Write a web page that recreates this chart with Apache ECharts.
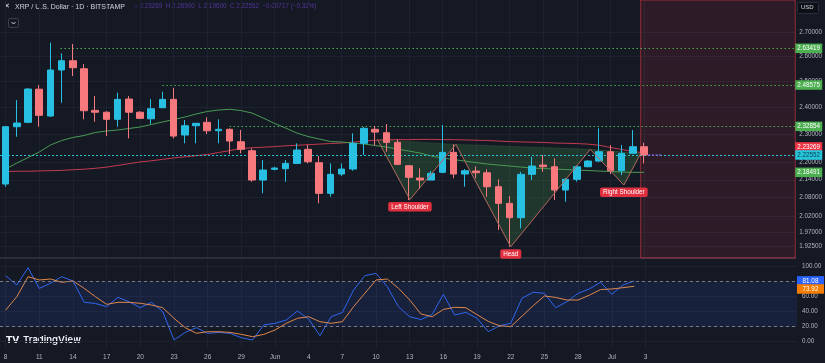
<!DOCTYPE html>
<html><head><meta charset="utf-8">
<script src="https://cdn.jsdelivr.net/npm/echarts@6/dist/echarts.min.js"></script>
<style>html,body{margin:0;padding:0;background:#151924;}#c{width:825px;height:363px;}</style>
</head><body><div id="c"></div>
<script>
// ---------- data ----------
const tickLabels = ['8','11','14','17','20','23','26','29','Jun','4','7','10','13','16','19','22','25','28','Jul','3'];
const opens  = [2.1256,2.3272,2.3434,2.4694,2.3668,2.5454,2.5830,2.5506,2.3880,2.3810,2.3545,2.4312,2.3810,2.3567,2.3980,2.4300,2.2968,2.3308,2.3434,2.3124,2.3176,2.2726,2.2404,2.1390,2.1754,2.1776,2.1960,2.2454,2.1983,2.0945,2.1594,2.1765,2.2668,2.3176,2.3051,2.2702,2.1879,2.1458,2.1390,2.1652,2.2348,2.1594,2.1696,2.1638,2.1165,2.0617,2.0153,2.1584,2.1903,2.1844,2.1055,2.1414,2.1844,2.2042,2.2370,2.1707,2.2312,2.2547];
const closes = [2.3272,2.3408,2.4700,2.3694,2.5454,2.5830,2.5546,2.3867,2.3810,2.3545,2.4300,2.3810,2.3582,2.3943,2.4300,2.2930,2.3308,2.3397,2.3124,2.3176,2.2751,2.2454,2.1390,2.1731,2.1800,2.1960,2.2429,2.2018,2.0945,2.1584,2.1765,2.2668,2.3212,2.3075,2.2702,2.1927,2.1482,2.1390,2.1618,2.2348,2.1594,2.1707,2.1638,2.1165,2.0617,2.0153,2.1584,2.1869,2.1844,2.1055,2.1414,2.1844,2.2042,2.2370,2.1707,2.2312,2.2547,2.2255];
const highs  = [2.3300,2.4274,2.4739,2.4857,2.6578,2.6134,2.6522,2.5697,2.4428,2.3850,2.4556,2.4428,2.3850,2.4312,2.4596,2.4746,2.3519,2.3408,2.3620,2.3545,2.3210,2.3150,2.2489,2.2077,2.1840,2.2077,2.2668,2.2607,2.2218,2.1960,2.1960,2.3029,2.3260,2.3300,2.3371,2.2810,2.1900,2.1789,2.1700,2.3334,2.2632,2.1765,2.1857,2.1754,2.1414,2.0856,2.1672,2.2193,2.2253,2.2136,2.1460,2.1890,2.2077,2.3212,2.2607,2.2607,2.3150,2.2690];
const lows   = [2.1165,2.2906,2.3408,2.3272,2.3630,2.4170,2.5213,2.3545,2.3456,2.2930,2.3272,2.2847,2.3556,2.3371,2.3970,2.2847,2.2668,2.2668,2.3004,2.2668,2.2288,2.2312,2.1333,2.0950,2.1720,2.1333,2.1937,2.1960,2.0617,2.0833,2.1526,2.1707,2.2253,2.2600,2.2370,2.1900,2.0724,2.1090,2.1390,2.1620,2.1448,2.1165,2.1448,2.0833,1.9764,1.9250,1.9820,2.1390,2.1673,2.0724,2.0668,2.1333,2.1830,2.2018,2.1594,2.1560,2.2312,2.1960];
const maRed   = [2.168,2.169,2.169,2.170,2.171,2.172,2.174,2.176,2.179,2.183,2.189,2.195,2.201,2.205,2.210,2.215,2.219,2.223,2.227,2.234,2.241,2.248,2.251,2.253,2.255,2.258,2.260,2.262,2.264,2.266,2.268,2.271,2.275,2.278,2.280,2.280,2.280,2.281,2.281,2.280,2.280,2.279,2.278,2.277,2.275,2.273,2.272,2.271,2.270,2.268,2.267,2.266,2.264,2.260,2.252,2.245,2.238,2.233];
const maGreen = [2.1765,2.1972,2.2165,2.2358,2.2607,2.2769,2.2878,2.2950,2.3059,2.3114,2.3150,2.3205,2.3260,2.3352,2.3445,2.3537,2.3631,2.3743,2.3838,2.3894,2.3921,2.3875,2.3780,2.3593,2.3396,2.3223,2.3041,2.2914,2.2823,2.2733,2.2715,2.2679,2.2643,2.2589,2.2536,2.2464,2.2393,2.2323,2.2218,2.2147,2.2095,2.2042,2.1990,2.1937,2.1903,2.1869,2.1834,2.1800,2.1783,2.1765,2.1748,2.1731,2.1714,2.1696,2.1680,2.1662,2.1652,2.1652];
const stochK = [88,75.6,98.7,71,77.9,86.7,81,52.5,51,46.7,59.2,53.3,45.3,52.5,40,2.3,12.4,18.7,11.1,12.4,11.1,5.3,2.3,22.3,24.5,28.9,40.9,30.2,8,33.3,39.1,68.9,88,91.1,73.3,46.7,33.3,29.5,36.5,63.2,35.6,39.1,31.2,13.3,21.3,24.5,57.9,65.9,64.5,45.3,53.3,64.5,70.3,79.2,63.2,75.6,81.08];
const stochD = [42,60,86.7,82.3,83.6,79.2,81,71.2,60,49.8,52.5,52.5,51.2,48.9,45.3,31.2,18.7,11.2,13.3,13.3,12.4,9.8,6.7,9.8,15.6,24.5,31.2,33.3,26.7,24.5,26.7,46.7,64.5,82.3,83.6,71.2,55.6,37,33.3,43,45.9,45.3,36,27,21.3,20,34,48,61,59,55.6,55.6,62,69.5,70.3,72,73.92];
const priceTicks = [2.7,2.6,2.5,2.4,2.3,2.2,2.14,2.08,2.02,1.97,1.925];
const stochTicks = [0,20,40,60,80,100];
const levelPrices = [2.63419,2.48575,2.32854];
const levelStarts = [4.9,14,20];
const lastPrice = 2.22552;
const redMaLast = 2.23269, greenMaLast = 2.18491;
const stochKLast = 81.08, stochDLast = 73.92;
// inverse head & shoulders pattern points (bar index, price)
const hsX = [33.2,36.1,40.2,45.1,52.2,55.2,56.7];
const hsP = [2.2800,2.0740,2.2630,1.9250,2.2454,2.1222,2.2312];
const hsNames = ['','Left Shoulder','','Head','','Right Shoulder',''];
const futureStart = 56.7;

// ---------- build ----------
const L = Math.log;
const X_MIN = -0.5, X_MAX = 70.5;
const P_MIN = 1.891, P_MAX = 2.8433;
const tickIdx = tickLabels.map((_, k) => 3 * k);
const priceTickLn = priceTicks.map(L);
const UP = '#27c0e2', DOWN = '#f7787d';
const GRID_C = '#1e2230';
const FONT = 'Liberation Sans';

const candleData = opens.map((o, i) => [i, L(o), L(closes[i]), L(lows[i]), L(highs[i])]);
const tri = [0, 1, 2].map(k => [hsX[2*k], L(hsP[2*k]), hsX[2*k+1], L(hsP[2*k+1]), hsX[2*k+2], L(hsP[2*k+2])]);

function tag(coordX, y, text, color, dy, textColor) {
  return {
    coord: [coordX, y], symbol: 'rect', symbolSize: [27, 9.5], symbolOffset: [13.5, dy || 0],
    itemStyle: { color: color },
    label: { show: true, position: 'inside', formatter: text, color: textColor || '#ffffff', fontSize: 6.3, fontFamily: FONT }
  };
}

const chart = echarts.init(document.getElementById('c'), null, { renderer: 'canvas' });
const option = {
  backgroundColor: '#151924',
  animation: false,
  textStyle: { fontFamily: FONT },
  grid: [
    { left: 0, right: 28, top: 0, height: 258 },
    { left: 0, right: 28, top: 261, height: 87 }
  ],
  xAxis: [
    { gridIndex: 0, type: 'value', min: X_MIN, max: X_MAX,
      axisLine: { show: true, onZero: false, lineStyle: { color: '#2a2e39', width: 2 } },
      axisTick: { show: false, customValues: tickIdx }, axisLabel: { show: false },
      splitLine: { show: true, lineStyle: { color: GRID_C, width: 1 } } },
    { gridIndex: 1, type: 'value', min: X_MIN, max: X_MAX,
      axisLine: { show: false },
      axisTick: { show: false, customValues: tickIdx },
      axisLabel: { show: true, customValues: tickIdx, formatter: v => tickLabels[Math.round(v / 3)] || '',
        color: '#b2b5be', fontSize: 6.5, margin: 6, fontFamily: FONT },
      splitLine: { show: true, lineStyle: { color: GRID_C, width: 1 } } }
  ],
  yAxis: [
    { gridIndex: 0, type: 'value', position: 'right', min: L(P_MIN), max: L(P_MAX), scale: true,
      axisLine: { show: false }, axisTick: { show: false, customValues: priceTickLn },
      axisLabel: { show: true, customValues: priceTickLn, formatter: v => Math.exp(v).toFixed(5),
        color: '#b2b5be', fontSize: 6.3, margin: 4, fontFamily: FONT },
      splitLine: { show: true, lineStyle: { color: GRID_C, width: 1 } } },
    { gridIndex: 1, type: 'value', position: 'right', min: -8.4, max: 107.6,
      axisLine: { show: false }, axisTick: { show: false, customValues: stochTicks },
      axisLabel: { show: true, customValues: stochTicks, formatter: v => v.toFixed(2),
        color: '#b2b5be', fontSize: 6.3, margin: 5, fontFamily: FONT },
      splitLine: { show: true, lineStyle: { color: GRID_C, width: 1 } } }
  ],
  series: [
    { type: 'candlestick', xAxisIndex: 0, yAxisIndex: 0, data: candleData,
      encode: { x: 0, y: [1, 2, 3, 4] }, barWidth: 7, z: 5,
      itemStyle: { color: UP, color0: DOWN, borderColor: UP, borderColor0: DOWN, borderWidth: 1 },
      markArea: { silent: true, z: 1,
        itemStyle: { color: 'rgba(242,54,69,0.11)', borderColor: 'rgba(242,54,69,0.55)', borderWidth: 1 },
        data: [[{ xAxis: futureStart }, { xAxis: X_MAX }]] },
      markLine: { silent: true, symbol: ['none', 'none'], label: { show: false }, animation: false,
        data: levelPrices.map((p, k) => [
          { coord: [levelStarts[k], L(p)], lineStyle: { color: '#4caf50', type: [1.5, 2.5], width: 1 } },
          { coord: [X_MAX, L(p)] }
        ]).concat([
          [{ coord: [X_MIN, L(lastPrice)], lineStyle: { color: '#26c6da', type: [2, 2], width: 1 } }, { coord: [X_MAX, L(lastPrice)] }],
          [{ coord: [57.4, L(lastPrice)], lineStyle: { color: '#7e57c2', type: [2, 1.5], width: 1.5 } }, { coord: [58.5, L(lastPrice)] }]
        ]) },
      markPoint: { silent: true, z: 20,
        data: levelPrices.map(p => tag(X_MAX, L(p), p.toFixed(5), '#4caf50', 0))
          .concat([
            tag(X_MAX, L(redMaLast), redMaLast.toFixed(5), '#f23645', -6),
            tag(X_MAX, L(lastPrice), lastPrice.toFixed(5), '#26c6da', 0, '#0c3a52'),
            tag(X_MAX, L(greenMaLast), greenMaLast.toFixed(5), '#4caf50', 5.7)
          ]) }
    },
    { type: 'line', xAxisIndex: 0, yAxisIndex: 0, data: maRed.map((p, i) => [i, L(p)]),
      showSymbol: false, symbol: 'none', lineStyle: { color: '#c23a50', width: 1 }, z: 3, silent: true },
    { type: 'line', xAxisIndex: 0, yAxisIndex: 0, data: maGreen.map((p, i) => [i, L(p)]),
      showSymbol: false, symbol: 'none', lineStyle: { color: '#4a9a55', width: 1 }, z: 3, silent: true },
    { type: 'custom', xAxisIndex: 0, yAxisIndex: 0, data: tri, encode: { x: [0, 2, 4], y: [1, 3, 5] }, z: 2, silent: true,
      renderItem: (params, api) => {
        const pts = [0, 1, 2].map(k => api.coord([api.value(2 * k), api.value(2 * k + 1)]));
        return { type: 'polygon', shape: { points: pts },
          style: { fill: 'rgba(76,175,80,0.2)', stroke: 'rgba(76,175,80,0.3)', lineWidth: 0.6 } };
      } },
    { type: 'line', xAxisIndex: 0, yAxisIndex: 0, data: hsX.map((x, i) => [x, L(hsP[i])]),
      showSymbol: false, symbol: 'none', lineStyle: { color: '#b4615a', width: 1 }, z: 6, silent: true,
      markPoint: { silent: true, symbol: 'circle', symbolSize: 0.1, z: 21,
        data: hsNames.map((n, i) => n ? {
          coord: [hsX[i], L(hsP[i])],
          label: { show: true, position: 'bottom', distance: 2.5, formatter: n, color: '#ffffff', fontSize: 6.3,
            fontFamily: FONT, backgroundColor: '#e0303f', padding: [2, 3, 1.5, 3], borderRadius: 2 }
        } : null).filter(Boolean) } },
    { type: 'line', xAxisIndex: 1, yAxisIndex: 1, data: stochK.map((v, i) => [i, v]),
      showSymbol: false, symbol: 'none', lineStyle: { color: '#2f66f0', width: 1 }, z: 4, silent: true,
      markArea: { silent: true, itemStyle: { color: 'rgba(41,98,255,0.11)' }, data: [[{ yAxis: 20 }, { yAxis: 80 }]] },
      markLine: { silent: true, symbol: ['none', 'none'], label: { show: false },
        lineStyle: { color: '#787b86', type: [3, 3], width: 1 }, data: [{ yAxis: 20 }, { yAxis: 80 }] },
      markPoint: { silent: true, z: 20, data: [tag(X_MAX, stochKLast, stochKLast.toFixed(2), '#2962ff', 0)] } },
    { type: 'line', xAxisIndex: 1, yAxisIndex: 1, data: stochD.map((v, i) => [i, v]),
      showSymbol: false, symbol: 'none', lineStyle: { color: '#e0884c', width: 1 }, z: 4, silent: true,
      markPoint: { silent: true, z: 20, data: [tag(X_MAX, stochDLast, stochDLast.toFixed(2), '#f57c00', 2.7)] } }
  ],
  graphic: [
    { type: 'text', left: 4, top: 3, style: { text: '✕', fill: '#e0e3eb', fontSize: 7, fontFamily: 'DejaVu Sans' } },
    { type: 'text', left: 15, top: 3.5, style: { text: 'XRP / U.S. Dollar · 1D · BITSTAMP', fill: '#d1d4dc', fontSize: 7, fontFamily: FONT } },
    { type: 'text', left: 134, top: 3.5, style: { text: '○ 2.23269  H 2.26900  L 2.19600  C 2.22552  −0.00717 (−0.32%)', fill: '#5e3bb0', fontSize: 6.3, fontFamily: FONT, opacity: 0.85 } },
    { type: 'rect', left: 6, top: 16, shape: { width: 10, height: 9, r: 1.5 }, style: { fill: 'none', stroke: '#3a3e4a', lineWidth: 1 } },
    { type: 'polyline', left: 9, top: 19.5, shape: { points: [[0, 0], [2, 2], [4, 0]] }, style: { stroke: '#d1d4dc', fill: 'none', lineWidth: 1 } },
    { type: 'rect', left: 797, top: 2, shape: { width: 21, height: 11, r: 1 }, style: { fill: '#0e1018', stroke: '#2a2e39', lineWidth: 1 } },
    { type: 'text', left: 801, top: 4.5, style: { text: 'USD', fill: '#d1d4dc', fontSize: 6, fontFamily: FONT } },
    { type: 'text', left: 6, top: 336, style: { text: 'TV', fill: '#f0f3fa', fontSize: 9, fontWeight: 'bold', fontFamily: 'DejaVu Sans' } },
    { type: 'text', left: 23, top: 335.5, style: { text: 'TradingView', fill: '#f0f3fa', fontSize: 9.5, fontWeight: 600, fontFamily: 'Inter' } }
  ]
};
chart.setOption(option);
</script>
</body></html>
